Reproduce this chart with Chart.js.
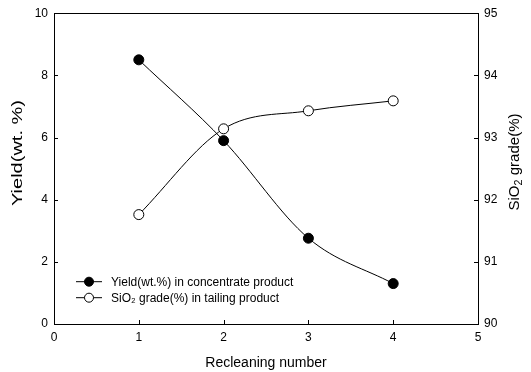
<!DOCTYPE html>
<html>
<head>
<meta charset="utf-8">
<script src="https://cdn.jsdelivr.net/npm/chart.js@4.4.0/dist/chart.umd.min.js"></script>
<style>
html,body{margin:0;padding:0;background:#fff;}
#wrap{width:531px;height:372px;position:relative;}
</style>
</head>
<body>
<div id="wrap"><canvas id="c" width="531" height="372"></canvas></div>
<script>
const recleaning = [1, 2, 3, 4];
const yieldValues = [8.5, 5.9, 2.76, 1.3];
const sio2Values = [91.76, 93.14, 93.43, 93.59];
const xTicks = [0, 1, 2, 3, 4, 5];
const yieldTicks = [0, 2, 4, 6, 8, 10];
const sio2Ticks = [90, 91, 92, 93, 94, 95];
const seriesNames = ['Yield(wt.%) in concentrate product', 'SiO\u2082 grade(%) in tailing product'];
const xTitle = 'Recleaning number';
const yTitle = 'Yield(wt. %)';
const y2TitleParts = ['SiO', '2', ' grade(%)'];

const FONT = 'Arial, "Liberation Sans", Helvetica, sans-serif';

const frame = {
  id: 'frame',
  afterDraw(chart) {
    const ctx = chart.ctx, a = chart.chartArea;
    const sx = chart.scales.x, sy = chart.scales.y, sy2 = chart.scales.y2;
    ctx.save();
    ctx.strokeStyle = '#000';
    ctx.lineWidth = 1;
    ctx.strokeRect(Math.round(a.left) + 0.5, Math.round(a.top) + 0.5, Math.round(a.right - a.left), Math.round(a.bottom - a.top));
    const L = 4;
    ctx.beginPath();
    xTicks.forEach(v => { const p = Math.round(sx.getPixelForValue(v)) + 0.5; ctx.moveTo(p, a.bottom); ctx.lineTo(p, a.bottom - L); });
    yieldTicks.forEach(v => { const p = Math.round(sy.getPixelForValue(v)) + 0.5; ctx.moveTo(a.left, p); ctx.lineTo(a.left + L, p); });
    sio2Ticks.forEach(v => { const p = Math.round(sy2.getPixelForValue(v)) + 0.5; ctx.moveTo(a.right, p); ctx.lineTo(a.right - L, p); });
    ctx.stroke();
    // legend
    ctx.font = '12px ' + FONT;
    ctx.textBaseline = 'middle';
    ctx.textAlign = 'left';
    ctx.fillStyle = '#000';
    chart.data.datasets.forEach((ds, i) => {
      const y = a.top + 268 + i * 16;
      const x0 = a.left + 22;
      ctx.beginPath();
      ctx.moveTo(x0, y + 0.5); ctx.lineTo(x0 + 26, y + 0.5);
      ctx.stroke();
      ctx.beginPath();
      ctx.arc(x0 + 13, y + 0.5, 4.5, 0, Math.PI * 2);
      ctx.fillStyle = ds.pointBackgroundColor;
      ctx.fill();
      ctx.stroke();
      ctx.fillStyle = '#000';
      ctx.fillText(ds.label, x0 + 35, y + 1);
    });
    // left title (rotated, reading upwards, stretched like the scan)
    ctx.font = '15px ' + FONT;
    ctx.textAlign = 'center';
    ctx.textBaseline = 'middle';
    ctx.save();
    ctx.translate(18, 153);
    ctx.rotate(-Math.PI / 2);
    const w1 = ctx.measureText(yTitle).width;
    ctx.scale(106 / w1, 1);
    ctx.fillText(yTitle, 0, 0);
    ctx.restore();
    // right title
    ctx.save();
    ctx.translate(515, 162);
    ctx.rotate(-Math.PI / 2);
    ctx.font = '14px ' + FONT;
    const wa = ctx.measureText(y2TitleParts[0]).width;
    ctx.font = '10px ' + FONT;
    const wb = ctx.measureText(y2TitleParts[1]).width;
    ctx.font = '14px ' + FONT;
    const wc = ctx.measureText(y2TitleParts[2]).width;
    const tot = wa + wb + wc;
    ctx.scale(97 / tot, 1);
    ctx.textAlign = 'left';
    let x = -tot / 2;
    ctx.fillText(y2TitleParts[0], x, 0); x += wa;
    ctx.font = '10px ' + FONT;
    ctx.fillText(y2TitleParts[1], x, 4); x += wb;
    ctx.font = '14px ' + FONT;
    ctx.fillText(y2TitleParts[2], x, 0);
    ctx.restore();
    ctx.restore();
  }
};

new Chart(document.getElementById('c'), {
  type: 'line',
  data: {
    datasets: [
      {
        label: seriesNames[0],
        data: recleaning.map((x, i) => ({x, y: yieldValues[i]})),
        yAxisID: 'y',
        borderColor: '#000', borderWidth: 1,
        pointBackgroundColor: '#000', pointBorderColor: '#000',
        pointRadius: 5, pointBorderWidth: 1,
        cubicInterpolationMode: 'monotone'
      },
      {
        label: seriesNames[1],
        data: recleaning.map((x, i) => ({x, y: sio2Values[i]})),
        yAxisID: 'y2',
        borderColor: '#000', borderWidth: 1,
        pointBackgroundColor: '#fff', pointBorderColor: '#000',
        pointRadius: 5, pointBorderWidth: 1,
        cubicInterpolationMode: 'monotone'
      }
    ]
  },
  options: {
    responsive: false,
    animation: false,
    devicePixelRatio: 1,
    layout: { padding: { top: 10, left: 0, right: 0, bottom: 0 } },
    plugins: { legend: { display: false }, tooltip: { enabled: false } },
    scales: {
      x: {
        type: 'linear', min: 0, max: 5,
        afterBuildTicks: s => { s.ticks = xTicks.map(v => ({value: v})); },
        afterFit: s => { s.height = 48; },
        grid: { display: false, drawTicks: false },
        border: { display: false },
        ticks: { color: '#000', font: { family: FONT, size: 12 }, padding: 6, maxRotation: 0 },
        title: { display: true, text: xTitle, color: '#000', font: { family: FONT, size: 14 }, padding: { top: 6, bottom: 0 } }
      },
      y: {
        type: 'linear', position: 'left', min: 0, max: 10,
        afterBuildTicks: s => { s.ticks = yieldTicks.map(v => ({value: v})); },
        afterFit: s => { s.width = 54; },
        grid: { display: false, drawTicks: false },
        border: { display: false },
        ticks: { color: '#000', font: { family: FONT, size: 12 }, padding: 6 }
      },
      y2: {
        type: 'linear', position: 'right', min: 90, max: 95,
        afterBuildTicks: s => { s.ticks = sio2Ticks.map(v => ({value: v})); },
        afterFit: s => { s.width = 53; },
        grid: { display: false, drawTicks: false },
        border: { display: false },
        ticks: { color: '#000', font: { family: FONT, size: 12 }, padding: 6 }
      }
    }
  },
  plugins: [frame]
});
</script>
</body>
</html>
